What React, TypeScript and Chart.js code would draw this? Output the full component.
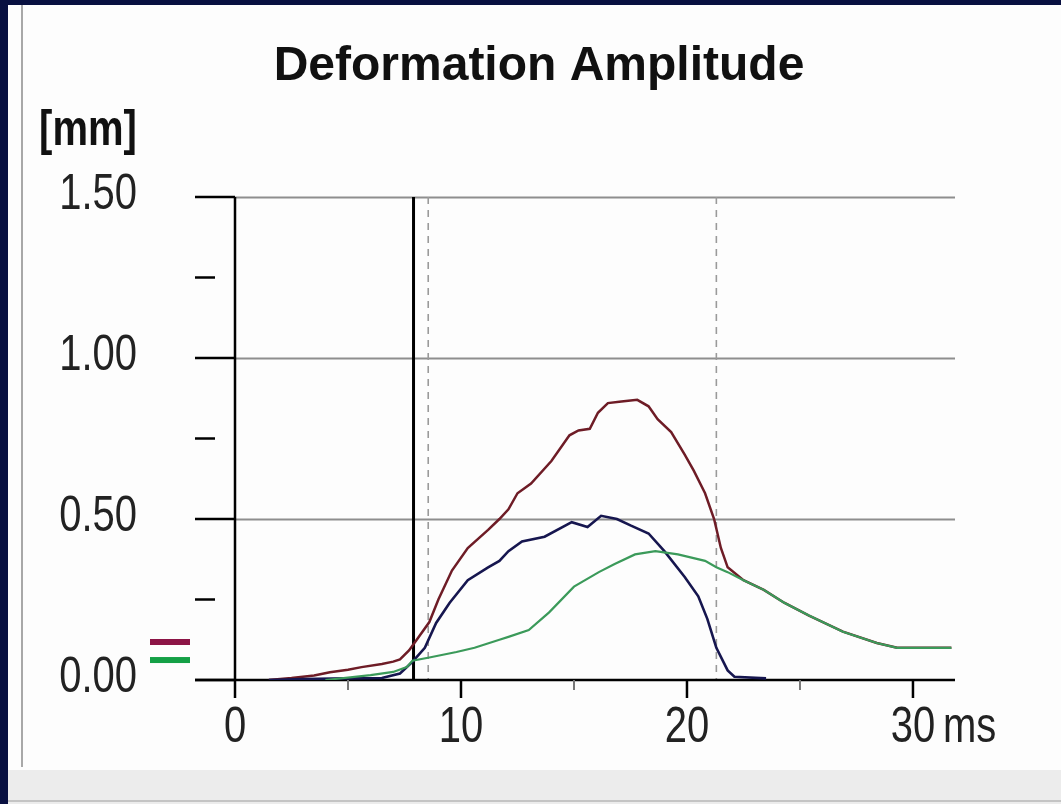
import React, { useEffect, useRef } from "react";
import { Chart, registerables } from "chart.js";

Chart.register(...registerables);

const TITLE = "Deformation Amplitude";
const Y_UNIT = "[mm]";
const X_UNIT = "ms";

const redT = [1.5, 2.5, 3.5, 4.2, 5.0, 5.6, 6.5, 7.0, 7.3, 7.7, 8.05, 8.6, 9.0, 9.6, 10.3, 11.2, 11.7, 12.1, 12.5, 13.1, 14.0, 14.8, 15.2, 15.7, 16.06, 16.5, 17.1, 17.8, 18.3, 18.7, 19.3, 19.9, 20.3, 20.8, 21.2, 21.5, 21.8, 22.5, 23.4, 24.3, 25.4, 26.9, 28.4, 29.3, 30.7, 31.7];
const redV = [0.0, 0.006, 0.014, 0.024, 0.032, 0.04, 0.05, 0.057, 0.064, 0.092, 0.126, 0.18, 0.25, 0.34, 0.41, 0.466, 0.5, 0.53, 0.58, 0.61, 0.68, 0.76, 0.775, 0.78, 0.83, 0.86, 0.865, 0.87, 0.85, 0.81, 0.77, 0.7, 0.65, 0.58, 0.5, 0.41, 0.35, 0.31, 0.28, 0.24, 0.2, 0.15, 0.115, 0.1, 0.1, 0.1];

const blueT = [1.5, 3.0, 5.0, 6.5, 7.3, 7.85, 8.4, 8.9, 9.5, 10.3, 11.2, 11.7, 12.1, 12.7, 13.7, 14.9, 15.6, 16.2, 16.9, 17.5, 18.3, 19.0, 19.9, 20.5, 20.9, 21.3, 21.8, 22.1, 23.5];
const blueV = [0.0, 0.003, 0.005, 0.006, 0.02, 0.056, 0.1, 0.177, 0.24, 0.31, 0.35, 0.37, 0.4, 0.43, 0.445, 0.49, 0.475, 0.51, 0.5, 0.48, 0.455, 0.4, 0.32, 0.26, 0.19, 0.1, 0.03, 0.01, 0.005];

const greenT = [4.0, 6.0, 7.0, 7.6, 7.85, 8.6, 9.8, 10.6, 11.7, 12.1, 13.0, 13.9, 15.0, 16.1, 16.8, 17.7, 18.6, 19.6, 20.8, 21.3, 21.8, 22.5, 23.4, 24.3, 25.4, 26.9, 28.4, 29.3, 30.7, 31.7];
const greenV = [0.0, 0.015, 0.025, 0.04, 0.06, 0.07, 0.087, 0.1, 0.125, 0.134, 0.155, 0.21, 0.29, 0.335, 0.36, 0.39, 0.4, 0.39, 0.37, 0.35, 0.335, 0.31, 0.28, 0.24, 0.2, 0.15, 0.115, 0.1, 0.1, 0.1];

const xTickValues = [0, 5, 10, 15, 20, 25, 30];
const xLabeledTicks = [0, 10, 20, 30];
const yTickValues = [0, 0.5, 1.0, 1.5];
const yMinorTicks = [0.25, 0.75, 1.25];
const gridValues = [0.5, 1.0, 1.5];
const solidMarkerT = [7.9];
const dashedMarkerT = [8.55, 21.3];
const levelMarkerValues = [0.118, 0.062];
const levelMarkerColors = ["#8c1446", "#14a046"];

const X_MIN = -1.77;
const X_MAX = 31.86;
const Y_MIN = 0;
const Y_MAX = 1.5;

const CONDENSE = 0.8;
const LABEL_FONT = "50px 'Liberation Sans', Arial, sans-serif";

const toPoints = (t: number[], v: number[]) => t.map((x, i) => ({ x, y: v[i] }));

function condensedText(ctx: CanvasRenderingContext2D, text: string, x: number, y: number, align: CanvasTextAlign) {
  ctx.save();
  ctx.translate(x, y);
  ctx.scale(CONDENSE, 1);
  ctx.textAlign = align;
  ctx.fillText(text, 0, 0);
  ctx.restore();
}

const decorPlugin = {
  id: "decor",
  beforeDatasetsDraw(chart: any) {
    const { ctx, chartArea, scales } = chart;
    const x = scales.x;
    const y = scales.y;
    const x0 = x.getPixelForValue(0);
    const yTop = y.getPixelForValue(Y_MAX);
    const yBot = y.getPixelForValue(Y_MIN);
    ctx.save();
    ctx.strokeStyle = "#8e8e8e";
    ctx.lineWidth = 2;
    gridValues.forEach((v) => {
      const py = Math.round(y.getPixelForValue(v)) + 0.5;
      ctx.beginPath();
      ctx.moveTo(x0, py);
      ctx.lineTo(chartArea.right, py);
      ctx.stroke();
    });
    ctx.strokeStyle = "#9a9a9a";
    ctx.lineWidth = 1.6;
    ctx.setLineDash([7, 6]);
    dashedMarkerT.forEach((t) => {
      const px = x.getPixelForValue(t);
      ctx.beginPath();
      ctx.moveTo(px, yTop);
      ctx.lineTo(px, yBot);
      ctx.stroke();
    });
    ctx.setLineDash([]);
    ctx.strokeStyle = "#000";
    ctx.lineWidth = 3;
    solidMarkerT.forEach((t) => {
      const px = x.getPixelForValue(t);
      ctx.beginPath();
      ctx.moveTo(px, yTop);
      ctx.lineTo(px, yBot);
      ctx.stroke();
    });
    ctx.strokeStyle = "#000";
    ctx.lineWidth = 2.5;
    yTickValues.forEach((v) => {
      const py = y.getPixelForValue(v);
      ctx.beginPath();
      ctx.moveTo(chartArea.left, py);
      ctx.lineTo(x0, py);
      ctx.stroke();
    });
    yMinorTicks.forEach((v) => {
      const py = y.getPixelForValue(v);
      ctx.beginPath();
      ctx.moveTo(chartArea.left, py);
      ctx.lineTo(chartArea.left + 20, py);
      ctx.stroke();
    });
    ctx.beginPath();
    ctx.moveTo(x0, yTop);
    ctx.lineTo(x0, yBot);
    ctx.stroke();
    ctx.beginPath();
    ctx.moveTo(chartArea.left, yBot);
    ctx.lineTo(chartArea.right, yBot);
    ctx.stroke();
    xTickValues.forEach((t) => {
      const px = x.getPixelForValue(t);
      const major = xLabeledTicks.includes(t);
      ctx.strokeStyle = major ? "#000" : "#777";
      ctx.lineWidth = major ? 2.5 : 2;
      ctx.beginPath();
      ctx.moveTo(px, yBot);
      ctx.lineTo(px, yBot + (major ? 18 : 10));
      ctx.stroke();
    });
    levelMarkerValues.forEach((v, i) => {
      const py = y.getPixelForValue(v);
      ctx.fillStyle = levelMarkerColors[i];
      ctx.fillRect(chartArea.left - 45, py - 3, 40, 6);
    });
    ctx.restore();
  },
  afterDraw(chart: any) {
    const { ctx, chartArea, scales } = chart;
    const x = scales.x;
    const y = scales.y;
    ctx.save();
    ctx.fillStyle = "#111";
    ctx.textAlign = "center";
    ctx.textBaseline = "middle";
    ctx.font = "bold 48px 'Liberation Sans', Arial, sans-serif";
    ctx.fillText(TITLE, 539, 67);
    ctx.font = "bold 50px 'Liberation Sans', Arial, sans-serif";
    condensedText(ctx, Y_UNIT, 88, 131, "center");
    ctx.fillStyle = "#222";
    ctx.font = LABEL_FONT;
    // y tick labels from the scale's ticks
    y.ticks.forEach((tk: any) => {
      condensedText(ctx, Number(tk.value).toFixed(2), chartArea.left - 58, y.getPixelForValue(tk.value) - 2, "right");
    });
    // x tick labels from the scale's ticks
    x.ticks.forEach((tk: any) => {
      if (!xLabeledTicks.includes(tk.value)) return;
      condensedText(ctx, String(tk.value), x.getPixelForValue(tk.value), chartArea.bottom + 48, "center");
    });
    condensedText(ctx, X_UNIT, x.getPixelForValue(30) + 30, chartArea.bottom + 48, "left");
    ctx.restore();
  },
};

export default function App() {
  const ref = useRef<HTMLCanvasElement | null>(null);
  useEffect(() => {
    if (!ref.current) return;
    const chart = new Chart(ref.current, {
      type: "scatter",
      data: {
        datasets: [
          { label: "green", data: toPoints(greenT, greenV), borderColor: "#3b9a5a", borderWidth: 2.2, showLine: true, pointRadius: 0, tension: 0 },
          { label: "blue", data: toPoints(blueT, blueV), borderColor: "#16164f", borderWidth: 2.6, showLine: true, pointRadius: 0, tension: 0 },
          { label: "red", data: toPoints(redT, redV), borderColor: "#6e1c26", borderWidth: 2.5, showLine: true, pointRadius: 0, tension: 0 },
        ],
      },
      options: {
        animation: false,
        responsive: false,
        devicePixelRatio: 1,
        layout: { padding: { top: 197, right: 106, left: 0, bottom: 0 } },
        plugins: { legend: { display: false }, tooltip: { enabled: false }, title: { display: false } },
        scales: {
          x: {
            type: "linear",
            min: X_MIN,
            max: X_MAX,
            afterFit: (s: any) => { s.height = 124; },
            afterBuildTicks: (s: any) => { s.ticks = xTickValues.map((value) => ({ value })); },
            grid: { display: false, drawTicks: false },
            border: { display: false },
            ticks: { display: false },
          },
          y: {
            min: Y_MIN,
            max: Y_MAX,
            afterFit: (s: any) => { s.width = 195; },
            afterBuildTicks: (s: any) => { s.ticks = yTickValues.map((value) => ({ value })); },
            grid: { display: false, drawTicks: false },
            border: { display: false },
            ticks: { display: false },
          },
        },
      },
      plugins: [decorPlugin],
    } as any);
    return () => chart.destroy();
  }, []);

  return (
    <div style={{ position: "fixed", left: 0, top: 0, width: 1061, height: 804, background: "#081040", overflow: "hidden" }}>
      <div style={{ position: "absolute", left: 8, top: 5, right: 0, bottom: 0, background: "#fdfdfd" }} />
      <div style={{ position: "absolute", left: 21, top: 5, width: 2, height: 762, background: "#a8a8a8" }} />
      <div style={{ position: "absolute", left: 8, top: 770, right: 0, height: 34, background: "#ececec" }} />
      <div style={{ position: "absolute", left: 8, top: 800, right: 0, height: 2, background: "#c4c4c4" }} />
      <canvas ref={ref} width={1061} height={804} style={{ position: "absolute", left: 0, top: 0 }} />
    </div>
  );
}
